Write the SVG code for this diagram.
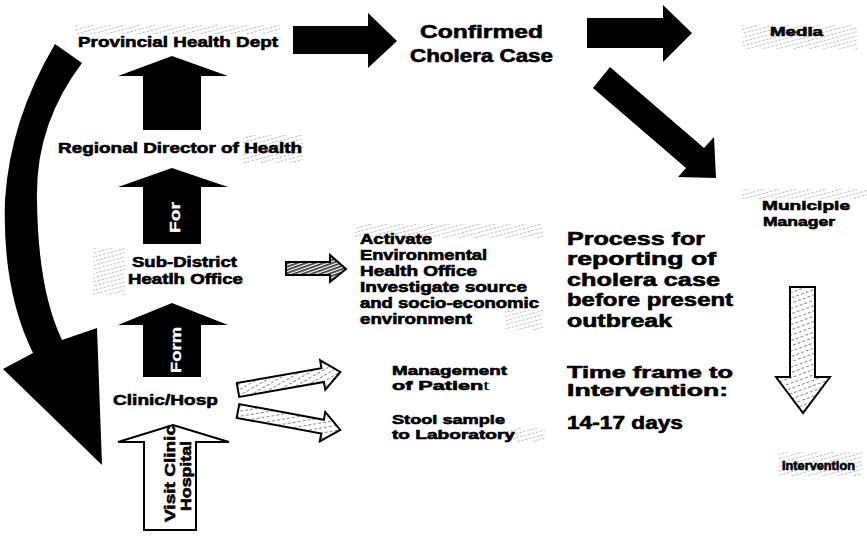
<svg xmlns="http://www.w3.org/2000/svg" width="867" height="537" viewBox="0 0 867 537">
<defs>
<pattern id="ht" width="4" height="4" patternUnits="userSpaceOnUse" patternTransform="rotate(75)"><rect width="1" height="2.5" fill="#777"/></pattern>
<pattern id="hd" width="3" height="3" patternUnits="userSpaceOnUse" patternTransform="rotate(70)"><rect width="3" height="3" fill="#fff"/><rect width="1.7" height="3" fill="#333"/></pattern>
<pattern id="hl" width="5" height="5" patternUnits="userSpaceOnUse" patternTransform="rotate(70)"><rect width="5" height="5" fill="#fff"/><rect width="1" height="3" fill="#888"/></pattern>
</defs>
<style>
text{font-family:"Liberation Sans",Arial,sans-serif;font-weight:bold;fill:#000;stroke:#000;stroke-width:0.6}
.s13{font-size:13px}.s14{font-size:14px}.s15{font-size:15px}.s17{font-size:17px}.s18{font-size:18px}.s19{font-size:19px}.s12{font-size:12px}
.w{fill:#fff;stroke:#fff;stroke-width:0.3}
.blk{fill:#000;stroke:none}
.out{stroke:#000;stroke-width:2;stroke-linejoin:miter}
.noise{fill:url(#ht);opacity:0.5}
</style>
<rect width="867" height="537" fill="#fff"/>

<g id="halftone">
<rect class="noise" x="75" y="25" width="205" height="9"/>
<rect class="noise" x="243" y="135" width="60" height="28"/>
<rect class="noise" x="93" y="248" width="32" height="47"/>
<rect class="noise" x="355" y="224" width="188" height="14"/>
<rect class="noise" x="505" y="310" width="38" height="20"/>
<rect class="noise" x="742" y="25" width="115" height="24"/>
<rect class="noise" x="742" y="189" width="125" height="10"/>
<rect class="noise" x="778" y="452" width="84" height="24"/>
<rect class="noise" x="505" y="428" width="40" height="14"/>
</g>

<g id="connectors">
<path class="blk" d="M55,44 Q10,120 5,200 Q2,290 33,353 L3,369 L102,465 L97,328 L62,340 Q38,290 37,200 Q35,125 82,63 Z"/>
<path class="blk" d="M143,130 L143,76 L118,76 L172,56 L228,76 L201,76 L201,130 Z"/>
<path class="blk" d="M143,244 L143,187 L118,187 L172,168 L228,187 L201,187 L201,244 Z"/>
<path class="blk" d="M143,377 L143,325 L118,325 L172,303 L228,325 L201,325 L201,377 Z"/>
<path class="out" fill="#fff" d="M144,530 L144,442 L118,442 L173,425 L229,442 L196,442 L196,530 Z"/>
<path class="blk" d="M293,26 L368,26 L368,13 L397,41 L368,68 L368,54 L293,54 Z"/>
<path class="blk" d="M587,18 L663,18 L663,5 L692,33 L663,62 L663,48 L587,48 Z"/>
<path class="blk" d="M610,67 L704,148 L714,137 L716,178 L678,177 L686,168 L593,88 Z"/>
<path class="out" fill="url(#hl)" d="M790,287 L815,287 L815,377 L830,377 L803,413 L776,377 L790,377 Z"/>
<path class="out" fill="url(#hd)" stroke-width="1.5" d="M286,262 L330,262 L330,255 L346,269 L330,282 L330,275 L286,275 Z"/>
<path class="out" fill="url(#hl)" stroke-width="1.5" transform="translate(238,390) rotate(-10)" d="M0,-7 L86,-7 L86,-15 L104,0 L86,15 L86,7 L0,7 Z"/>
<path class="out" fill="url(#hl)" stroke-width="1.5" transform="translate(238,411) rotate(10.5)" d="M0,-7 L86,-7 L86,-15 L104,0 L86,15 L86,7 L0,7 Z"/>
<text class="s14 w" transform="translate(180,233) rotate(-90)" textLength="31" lengthAdjust="spacingAndGlyphs">For</text>
<text class="s15 w" transform="translate(181,373) rotate(-90)" textLength="46" lengthAdjust="spacingAndGlyphs">Form</text>
<text class="s15" transform="translate(175,522) rotate(-90)" textLength="97" lengthAdjust="spacingAndGlyphs">Visit Clinic</text>
<text class="s15" transform="translate(191,511) rotate(-90)" textLength="70" lengthAdjust="spacingAndGlyphs">Hospital</text>
</g>

<g id="n-provincial"><text class="s15" x="78" y="47" textLength="200" lengthAdjust="spacingAndGlyphs">Provincial Health Dept</text></g>
<g id="n-regional"><text class="s15" x="58" y="153" textLength="244" lengthAdjust="spacingAndGlyphs">Regional Director of Health</text></g>
<g id="n-subdistrict">
<text class="s14" x="132" y="267" textLength="105" lengthAdjust="spacingAndGlyphs">Sub-District</text>
<text class="s14" x="128" y="284" textLength="115" lengthAdjust="spacingAndGlyphs">Heatlh Office</text>
</g>
<g id="n-clinic"><text class="s15" x="113" y="405" textLength="105" lengthAdjust="spacingAndGlyphs">Clinic/Hosp</text></g>
<g id="n-confirmed">
<text class="s19" x="420" y="38" textLength="123" lengthAdjust="spacingAndGlyphs">Confirmed</text>
<text class="s19" x="410" y="62" textLength="143" lengthAdjust="spacingAndGlyphs">Cholera Case</text>
</g>
<g id="n-media"><text class="s12" x="770" y="36" textLength="53" lengthAdjust="spacingAndGlyphs">Media</text></g>
<g id="n-municiple">
<text class="s13" x="762" y="210" textLength="88" lengthAdjust="spacingAndGlyphs">Municiple</text>
<text class="s13" x="763" y="226" textLength="72" lengthAdjust="spacingAndGlyphs">Manager</text>
</g>
<g id="n-intervention"><text class="s12" x="782" y="470" textLength="73" lengthAdjust="spacingAndGlyphs">Intervention</text></g>
<g id="n-activate">
<text class="s14" x="360" y="244" textLength="72" lengthAdjust="spacingAndGlyphs">Activate</text>
<text class="s14" x="360" y="260" textLength="127" lengthAdjust="spacingAndGlyphs">Environmental</text>
<text class="s14" x="360" y="276" textLength="117" lengthAdjust="spacingAndGlyphs">Health Office</text>
<text class="s14" x="360" y="292" textLength="167" lengthAdjust="spacingAndGlyphs">Investigate source</text>
<text class="s14" x="360" y="308" textLength="179" lengthAdjust="spacingAndGlyphs">and socio-economic</text>
<text class="s14" x="360" y="324" textLength="112" lengthAdjust="spacingAndGlyphs">environment</text>
</g>
<g id="n-management">
<text class="s13" x="392" y="375" textLength="115" lengthAdjust="spacingAndGlyphs">Management</text>
<text class="s13" x="392" y="390" textLength="98" lengthAdjust="spacingAndGlyphs">of Patien<tspan style="font-family:'Liberation Serif',serif;font-weight:normal;font-size:15px;stroke:none">t</tspan></text>
</g>
<g id="n-stool">
<text class="s13" x="392" y="424" textLength="113" lengthAdjust="spacingAndGlyphs">Stool sample</text>
<text class="s13" x="392" y="439" textLength="123" lengthAdjust="spacingAndGlyphs">to Laboratory</text>
</g>
<g id="n-process">
<text class="s18" x="567" y="245" textLength="138" lengthAdjust="spacingAndGlyphs">Process for</text>
<text class="s18" x="567" y="265" textLength="149" lengthAdjust="spacingAndGlyphs">reporting of</text>
<text class="s18" x="567" y="286" textLength="153" lengthAdjust="spacingAndGlyphs">cholera case</text>
<text class="s18" x="567" y="306" textLength="166" lengthAdjust="spacingAndGlyphs">before present</text>
<text class="s18" x="567" y="327" textLength="105" lengthAdjust="spacingAndGlyphs">outbreak</text>
</g>
<g id="n-timeframe">
<text class="s17" x="567" y="378" textLength="166" lengthAdjust="spacingAndGlyphs">Time frame to</text>
<text class="s17" x="567" y="396" textLength="161" lengthAdjust="spacingAndGlyphs">Intervention:</text>
<text class="s18" x="567" y="429" textLength="116" lengthAdjust="spacingAndGlyphs">14-17 days</text>
</g>
</svg>
